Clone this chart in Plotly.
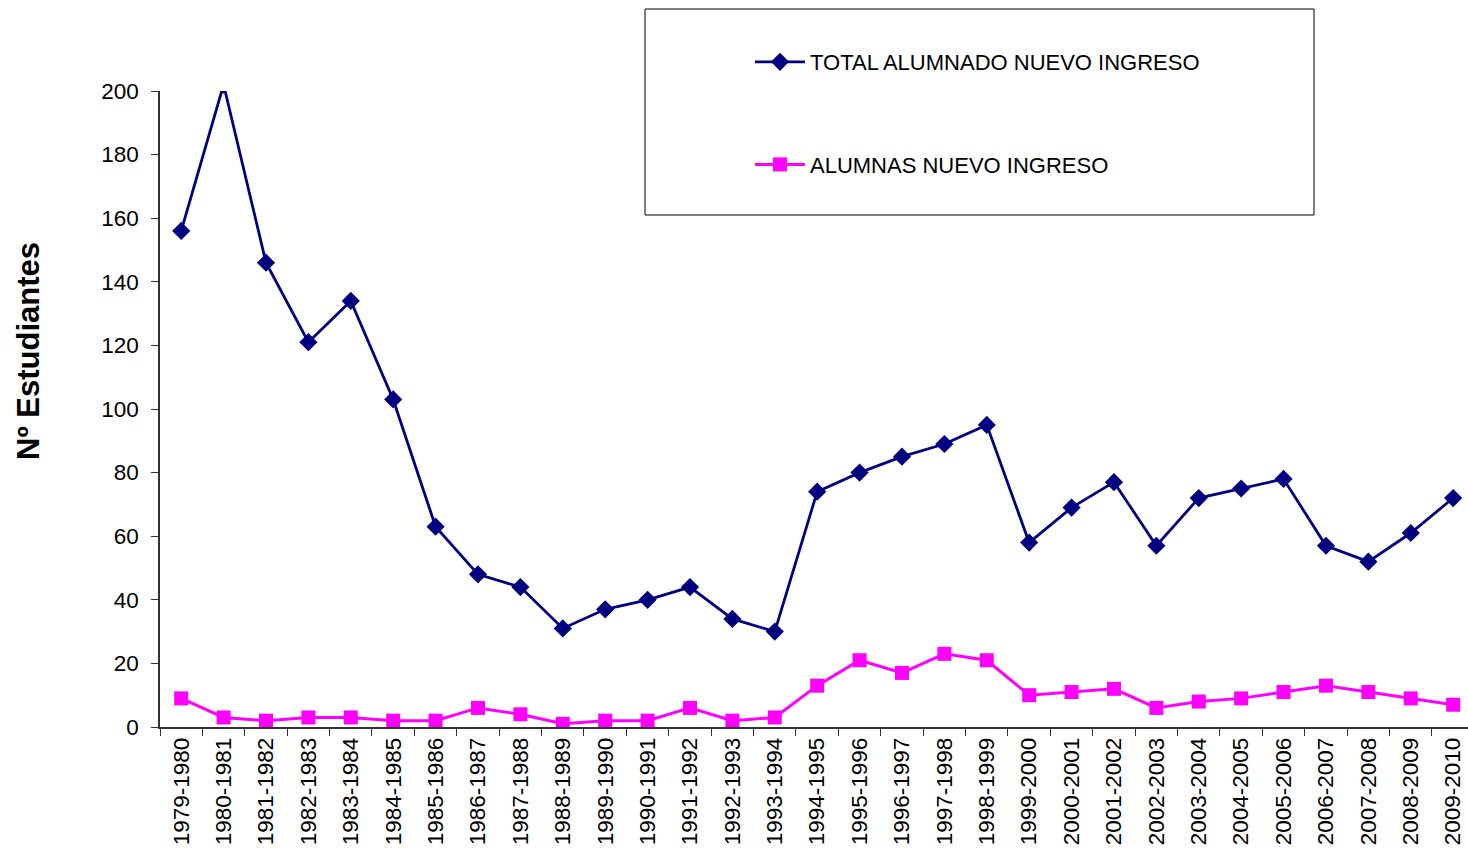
import plotly.graph_objects as go

cursos = ["1979-1980", "1980-1981", "1981-1982", "1982-1983", "1983-1984", "1984-1985",
          "1985-1986", "1986-1987", "1987-1988", "1988-1989", "1989-1990", "1990-1991",
          "1991-1992", "1992-1993", "1993-1994", "1994-1995", "1995-1996", "1996-1997",
          "1997-1998", "1998-1999", "1999-2000", "2000-2001", "2001-2002", "2002-2003",
          "2003-2004", "2004-2005", "2005-2006", "2006-2007", "2007-2008", "2008-2009",
          "2009-2010"]
total_nuevo_ingreso = [156, 202, 146, 121, 134, 103, 63, 48, 44, 31, 37, 40, 44, 34, 30,
                       74, 80, 85, 89, 95, 58, 69, 77, 57, 72, 75, 78, 57, 52, 61, 72]
alumnas_nuevo_ingreso = [9, 3, 2, 3, 3, 2, 2, 6, 4, 1, 2, 2, 6, 2, 3,
                         13, 21, 17, 23, 21, 10, 11, 12, 6, 8, 9, 11, 13, 11, 9, 7]
y_ticks = [0, 20, 40, 60, 80, 100, 120, 140, 160, 180, 200]

FONT = "Liberation Sans, Arial, sans-serif"
W, H = 1468, 856
L, R, T, B = 160, 0, 91, 129
PW, PH = W - L - R, H - T - B

def px_x(p):
    return (p - L) / PW

def px_y(p):
    return 1 - (p - T) / PH

fig = go.Figure()
fig.add_trace(go.Scatter(
    x=cursos, y=total_nuevo_ingreso, mode="lines+markers",
    name="TOTAL ALUMNADO NUEVO INGRESO", legendgroup="a",
    line=dict(color="#000080", width=2.8),
    marker=dict(symbol="diamond", size=14, color="#000080"),
))
fig.add_trace(go.Scatter(
    x=cursos, y=alumnas_nuevo_ingreso, mode="lines+markers",
    name="ALUMNAS NUEVO INGRESO", legendgroup="b",
    line=dict(color="#FF00FF", width=3),
    marker=dict(symbol="square", size=14, color="#FF00FF"),
))

fig.add_shape(type="rect", xref="paper", yref="paper",
              x0=px_x(645), x1=px_x(1314), y0=px_y(215), y1=px_y(9),
              line=dict(color="#000000", width=1), fillcolor="rgba(0,0,0,0)")

fig.add_annotation(text="<b>Nº Estudiantes</b>", xref="paper", yref="paper",
                   x=px_x(28), y=px_y(351), textangle=-90, showarrow=False,
                   xanchor="center", yanchor="middle",
                   font=dict(family=FONT, size=31, color="#000000"))

fig.update_layout(
    width=W, height=H,
    margin=dict(l=L, r=R, t=T, b=B, autoexpand=False),
    paper_bgcolor="white", plot_bgcolor="white",
    font=dict(family=FONT, color="#000000"),
    showlegend=True,
    legend=dict(x=px_x(750), y=px_y(41), xanchor="left", yanchor="top",
                bgcolor="rgba(0,0,0,0)", borderwidth=0,
                font=dict(family=FONT, size=22, color="#000000"),
                itemwidth=50, tracegroupgap=71),
)
fig.update_xaxes(
    type="category", range=[-0.5, 30.35],
    showline=True, linecolor="#333333", linewidth=1.5,
    ticks="outside", tickson="boundaries", ticklen=7, tickcolor="#333333",
    tickangle=-90, tickfont=dict(family=FONT, size=22.5, color="#000000"),
    showgrid=False, zeroline=False,
)
fig.update_yaxes(
    range=[0, 200], tickvals=y_ticks,
    showline=True, linecolor="#333333", linewidth=1.5,
    ticks="outside", ticklen=7, tickcolor="#333333",
    tickfont=dict(family=FONT, size=22.5, color="#000000"),
    ticklabelstandoff=8,
    showgrid=False, zeroline=False,
)

fig.write_html("out.html", config={"displayModeBar": False},
               post_script="document.body.style.margin='0';document.body.style.overflow='hidden';")
